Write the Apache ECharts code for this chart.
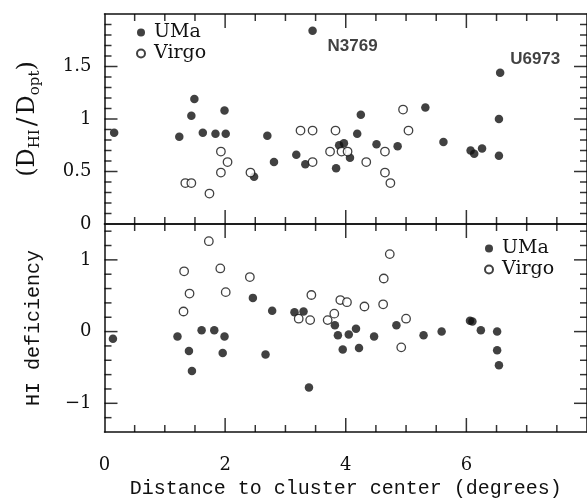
<!DOCTYPE html>
<html>
<head>
<meta charset="utf-8">
<script src="https://cdn.jsdelivr.net/npm/echarts@6/dist/echarts.min.js"></script>
<style>
html, body { margin: 0; padding: 0; background: #fff; }
#main { width: 587px; height: 501px; }
</style>
</head>
<body>
<div id="main"></div>
<script>
// distance (deg), D_HI/D_opt
var umaRatio = [
	[0.16, 0.87], [1.24, 0.83], [1.44, 1.03], [1.49, 1.19], [1.63, 0.87], [1.84, 0.86],
	[1.99, 1.08], [2.01, 0.86], [2.48, 0.45], [2.70, 0.84], [2.81, 0.59], [3.18, 0.66],
	[3.33, 0.57], [3.45, 1.84], [3.84, 0.53], [3.89, 0.75], [3.97, 0.77], [4.07, 0.63],
	[4.19, 0.86], [4.25, 1.04], [4.51, 0.76], [4.86, 0.74], [5.32, 1.11], [5.62, 0.78],
	[6.07, 0.70], [6.13, 0.67], [6.26, 0.72], [6.54, 0.65], [6.54, 1.00], [6.56, 1.44]
];
var virgoRatio = [
	[1.34, 0.39], [1.44, 0.39], [1.74, 0.29], [1.93, 0.69], [1.93, 0.49], [2.04, 0.59],
	[2.42, 0.49], [3.25, 0.89], [3.45, 0.89], [3.45, 0.59], [3.74, 0.69], [3.83, 0.89],
	[3.93, 0.69], [4.03, 0.69], [4.34, 0.59], [4.65, 0.69], [4.65, 0.49], [4.74, 0.39],
	[4.95, 1.09], [5.04, 0.89]
];
// distance (deg), HI deficiency
var umaDef = [
	[0.14, -0.10], [1.21, -0.07], [1.40, -0.27], [1.45, -0.55], [1.61, 0.02], [1.82, 0.02],
	[1.96, -0.30], [1.99, -0.07], [2.46, 0.47], [2.67, -0.32], [2.78, 0.29], [3.15, 0.27],
	[3.30, 0.28], [3.39, -0.78], [3.82, 0.09], [3.87, -0.05], [3.95, -0.25], [4.05, -0.04],
	[4.17, 0.04], [4.22, -0.23], [4.47, -0.07], [4.84, 0.09], [5.29, -0.05], [5.59, 0.00],
	[6.06, 0.15], [6.10, 0.14], [6.24, 0.02], [6.51, 0.00], [6.51, -0.26], [6.54, -0.47]
];
var virgoDef = [
	[1.32, 0.84], [1.41, 0.53], [1.31, 0.28], [1.73, 1.26], [1.92, 0.88], [2.01, 0.55],
	[2.41, 0.76], [3.22, 0.18], [3.41, 0.16], [3.43, 0.51], [3.70, 0.16], [3.81, 0.25],
	[3.91, 0.44], [4.02, 0.41], [4.31, 0.35], [4.62, 0.38], [4.63, 0.74], [4.73, 1.08],
	[4.92, -0.22], [5.00, 0.18]
];
// named galaxies in the top panel
var namedPoints = [
	{ name: 'N3769', value: [3.45, 1.84] },
	{ name: 'U6973', value: [6.56, 1.44] }
];

// tick positions (inward ticks on all four sides of both panels)
var distMajor = [2, 4, 6];
var distMinor = [0.5, 1, 1.5, 2.5, 3, 3.5, 4.5, 5, 5.5, 6.5, 7, 7.5];
var distLabels = [0, 2, 4, 6];
var ratioMajor = [0.5, 1, 1.5];
var ratioMinor = [0.1, 0.2, 0.3, 0.4, 0.6, 0.7, 0.8, 0.9, 1.1, 1.2, 1.3, 1.4, 1.6, 1.7, 1.8, 1.9];
var ratioLabels = [0, 0.5, 1, 1.5];
var defMajor = [-1, 0, 1];
var defMinor = [-1.2, -0.8, -0.6, -0.4, -0.2, 0.2, 0.4, 0.6, 0.8, 1.2, 1.4];
var defLabels = [-1, 0, 1];

var ink = '#111';
var serif = 'DejaVu Serif';
var mono = 'Liberation Mono';
var distRange = [0, 8];
var ratioRange = [0, 2];
var defRange = [-1.4, 1.5];

var myChart = echarts.init(document.getElementById('main'));

var tickFont = { color: ink, fontFamily: serif, fontSize: 18 };

function valueAxis(grid, range, extra) {
	return Object.assign({
		type: 'value',
		gridIndex: grid,
		min: range[0],
		max: range[1],
		axisLine: { show: true, onZero: false, lineStyle: { color: ink, width: 1.5 } },
		axisTick: { show: false },
		axisLabel: { show: false },
		splitLine: { show: false }
	}, extra || {});
}

// ticks drawn as thin bars placed through the axes' scales
function tickSeries(axisIdx, side, values, len, xRange, yRange) {
	var horiz = side === 'bottom' || side === 'top';
	var data = values.map(function(v) {
		if (side === 'bottom') return [v, yRange[0]];
		if (side === 'top') return [v, yRange[1]];
		if (side === 'left') return [xRange[0], v];
		return [xRange[1], v];
	});
	var offset = side === 'bottom' ? [0, -len / 2] : side === 'top' ? [0, len / 2] :
		side === 'left' ? [len / 2, 0] : [-len / 2, 0];
	return {
		name: 'tick-' + axisIdx + '-' + side + '-' + len,
		type: 'scatter',
		xAxisIndex: axisIdx,
		yAxisIndex: axisIdx,
		symbol: 'rect',
		symbolSize: horiz ? [1.5, len] : [len, 1.5],
		symbolOffset: offset,
		clip: false,
		z: 5,
		itemStyle: { color: '#000' },
		emphasis: { disabled: true },
		data: data
	};
}

var series = [];

// panel 0: D_HI/D_opt, panel 1: HI deficiency
[[0, ratioRange, ratioMajor, ratioMinor], [1, defRange, defMajor, defMinor]].forEach(function(p) {
	var g = p[0], yr = p[1];
	['bottom', 'top'].forEach(function(s) {
		series.push(tickSeries(g, s, distMajor, 14, distRange, yr));
		series.push(tickSeries(g, s, distMinor, 7, distRange, yr));
	});
	['left', 'right'].forEach(function(s) {
		series.push(tickSeries(g, s, p[2], 13, distRange, yr));
		series.push(tickSeries(g, s, p[3], 7, distRange, yr));
	});
});

series.push({
	name: 'UMa',
	type: 'scatter',
	xAxisIndex: 0,
	yAxisIndex: 0,
	symbolSize: 8.5,
	itemStyle: { color: ink },
	data: umaRatio
}, {
	name: 'Virgo',
	type: 'scatter',
	xAxisIndex: 0,
	yAxisIndex: 0,
	symbolSize: 8.5,
	itemStyle: { color: '#fff', borderColor: ink, borderWidth: 1.3 },
	data: virgoRatio
}, {
	name: 'UMa',
	type: 'scatter',
	xAxisIndex: 1,
	yAxisIndex: 1,
	symbolSize: 8.5,
	itemStyle: { color: ink },
	data: umaDef
}, {
	name: 'Virgo',
	type: 'scatter',
	xAxisIndex: 1,
	yAxisIndex: 1,
	symbolSize: 8.5,
	itemStyle: { color: '#fff', borderColor: ink, borderWidth: 1.3 },
	data: virgoDef
}, {
	// galaxy names next to their points
	name: 'names',
	type: 'scatter',
	xAxisIndex: 0,
	yAxisIndex: 0,
	symbolSize: 0,
	data: namedPoints.map(function(p, i) {
		return {
			name: p.name,
			value: p.value,
			label: { position: i === 0 ? [15, 7] : [10, -22] }
		};
	}),
	label: {
		show: true,
		formatter: '{b}',
		color: ink,
		fontFamily: 'Liberation Sans',
		fontWeight: 'bold',
		fontSize: 17
	}
});

var option = {
	animation: false,
	grid: [
		{ left: 104.5, top: 14, width: 487, height: 210 },
		{ left: 104.5, top: 224, width: 487, height: 208 }
	],
	legend: [{
		orient: 'vertical',
		left: 131,
		top: 18,
		itemWidth: 16,
		itemHeight: 8,
		itemGap: 2,
		data: ['UMa', 'Virgo'],
		textStyle: { color: ink, fontFamily: serif, fontSize: 19 }
	}, {
		orient: 'vertical',
		left: 479,
		top: 234,
		itemWidth: 16,
		itemHeight: 8,
		itemGap: 2,
		data: ['UMa', 'Virgo'],
		textStyle: { color: ink, fontFamily: serif, fontSize: 19 }
	}],
	xAxis: [
		valueAxis(0, distRange),
		valueAxis(1, distRange, {
			axisLabel: Object.assign({ show: true, margin: 24, customValues: distLabels }, tickFont),
			name: 'Distance to cluster center (degrees)',
			nameLocation: 'middle',
			nameGap: 47,
			nameTextStyle: { color: ink, fontFamily: mono, fontSize: 20 }
		}),
		valueAxis(0, distRange, { position: 'top' }),
		valueAxis(1, distRange, { position: 'top' })
	],
	yAxis: [
		valueAxis(0, ratioRange, {
			axisLabel: Object.assign({ show: true, margin: 13, customValues: ratioLabels }, tickFont),
			name: '{n|(D}{s|HI}{m|/}{n|D}{s|opt}{n|)}',
			nameLocation: 'middle',
			nameGap: 62,
			nameTextStyle: {
				rich: {
					n: { color: ink, fontFamily: serif, fontSize: 24 },
					m: { color: ink, fontFamily: serif, fontSize: 26, padding: [0, 3, 0, 3] },
					s: { color: ink, fontFamily: serif, fontSize: 15, padding: [14, 0, 0, 0] }
				}
			}
		}),
		valueAxis(1, defRange, {
			axisLabel: Object.assign({
				show: true, margin: 13, customValues: defLabels,
				formatter: function(v) { return v < 0 ? '\u2212' + (-v) : String(v); }
			}, tickFont),
			name: 'HI deficiency',
			nameLocation: 'middle',
			nameGap: 61,
			nameTextStyle: { color: ink, fontFamily: mono, fontSize: 20 }
		}),
		valueAxis(0, ratioRange, { position: 'right' }),
		valueAxis(1, defRange, { position: 'right' })
	],
	series: series
};

myChart.setOption(option);
</script>
</body>
</html>
